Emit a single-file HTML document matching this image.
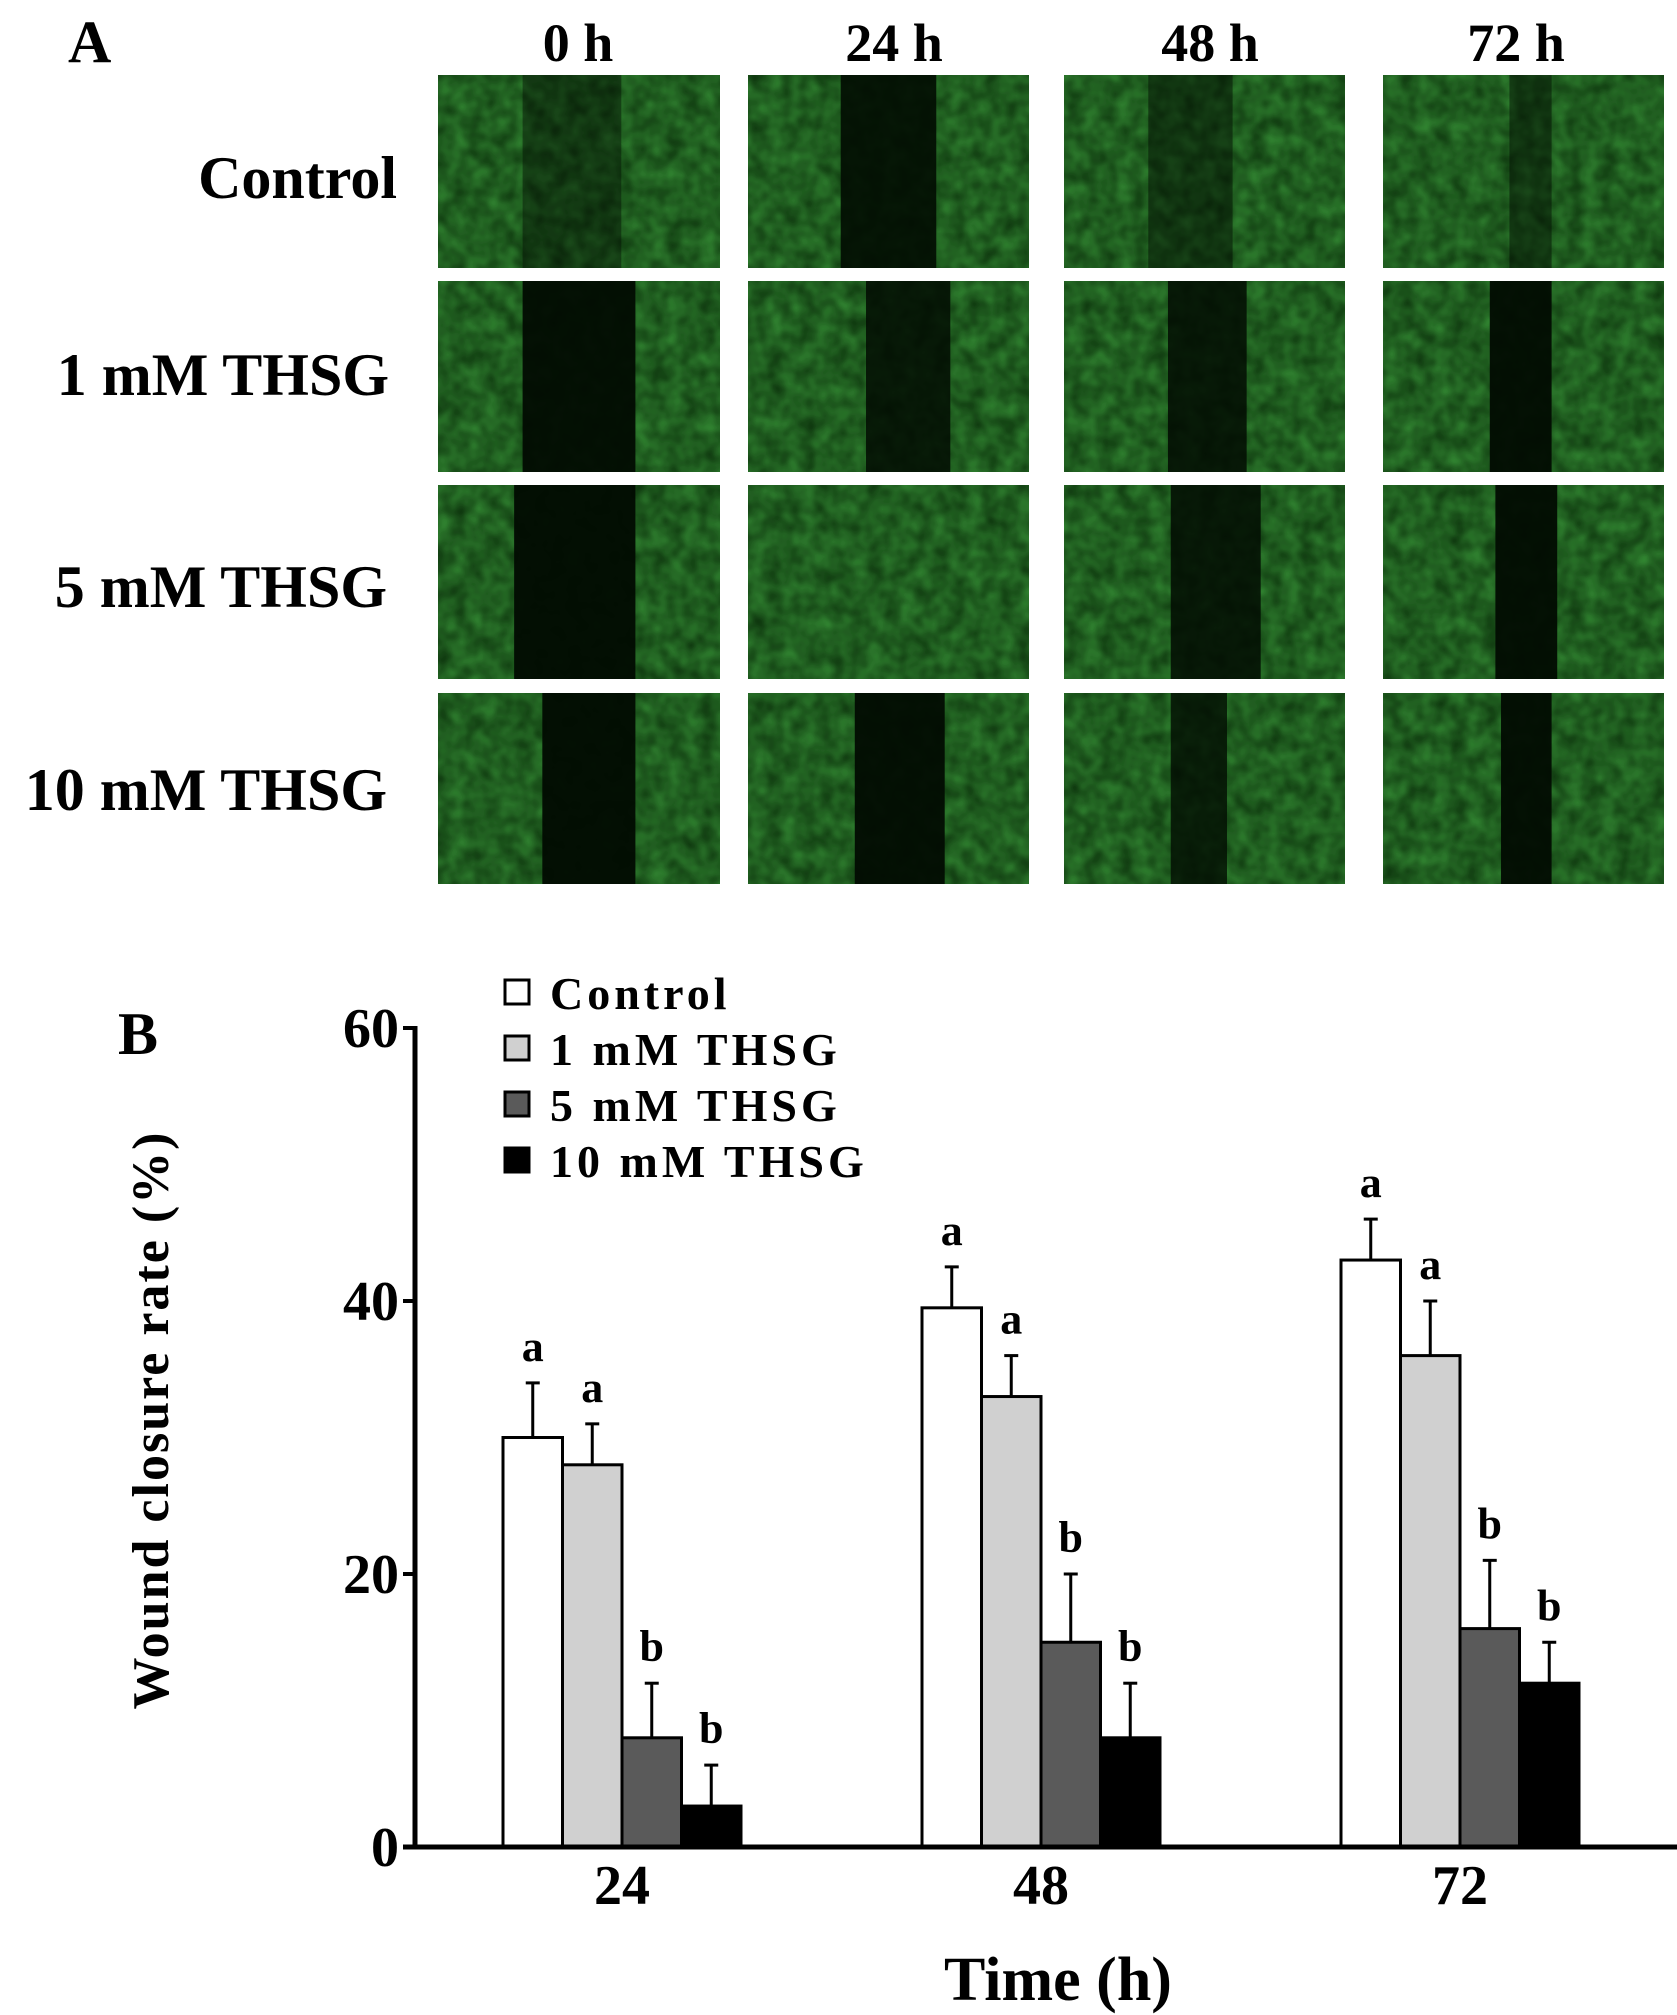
<!DOCTYPE html>
<html><head><meta charset="utf-8">
<style>
html,body{margin:0;padding:0;background:#fff;}
body{width:1677px;height:2015px;position:relative;overflow:hidden;font-family:"Liberation Serif",serif;font-weight:bold;}
.t{position:absolute;white-space:nowrap;color:#000;}
</style></head>
<body>
<svg id="panelA" width="1677" height="900" style="position:absolute;left:0;top:0">
<defs>
<filter id="tex" x="0" y="0" width="100%" height="100%">
<feTurbulence type="fractalNoise" baseFrequency="0.06" numOctaves="2" seed="3"/>
<feColorMatrix type="matrix" values="0 0 0 0 0.04  0 0 0 0 0.30  0 0 0 0 0.04  0.9 0 0 0 0"/>
<feComposite in2="SourceGraphic" operator="in"/>
</filter>
</defs>
<g id="cells"></g>
</svg>
<div class="t" style="left:68px;top:8px;font-size:60px;">A</div>
<div class="t" style="left:518px;top:12px;width:120px;text-align:center;font-size:54px;">0 h</div>
<div class="t" style="left:834px;top:12px;width:120px;text-align:center;font-size:54px;">24 h</div>
<div class="t" style="left:1150px;top:12px;width:120px;text-align:center;font-size:54px;">48 h</div>
<div class="t" style="left:1456px;top:12px;width:120px;text-align:center;font-size:54px;">72 h</div>
<div class="t" style="right:1280px;top:144px;font-size:60px;">Control</div>
<div class="t" style="right:1288px;top:341px;font-size:60px;">1 mM THSG</div>
<div class="t" style="right:1290px;top:553px;font-size:60px;">5 mM THSG</div>
<div class="t" style="right:1290px;top:756px;font-size:60px;">10 mM THSG</div>

<svg id="chart" width="1677" height="1115" style="position:absolute;left:0;top:900px"></svg>

<script>
// Panel A cells
const colX=[438,748,1064,1383], colW=[282,281,281,281];
const rowY=[75,281,485,693], rowH=[193,191,194,191];
const wounds=[[[0.3,0.65,0.45],[0.33,0.67,0.9],[0.3,0.6,0.5],[0.45,0.6,0.5]],
[[0.3,0.7,0.95],[0.42,0.72,0.85],[0.37,0.65,0.85],[0.38,0.6,0.95]],
[[0.27,0.7,0.97],[0,0,0],[0.38,0.7,0.85],[0.4,0.62,0.95]],
[[0.37,0.7,0.97],[0.38,0.7,0.95],[0.38,0.58,0.8],[0.42,0.6,0.95]]];
const NS="http://www.w3.org/2000/svg";
const cells=document.getElementById('cells');
for(let r=0;r<4;r++)for(let c=0;c<4;c++){
 const x=colX[c],y=rowY[r],w=colW[c],h=rowH[r];
 const g=document.createElementNS(NS,'g');
 
 
 const b=document.createElementNS(NS,'rect');
 b.setAttribute('x',x);b.setAttribute('y',y);b.setAttribute('width',w);b.setAttribute('height',h);b.setAttribute('fill','#0b300b');
 g.appendChild(b);
 const n=document.createElementNS(NS,'rect');
 n.setAttribute('x',x);n.setAttribute('y',y);n.setAttribute('width',w);n.setAttribute('height',h);n.setAttribute('fill','#fff');n.setAttribute('filter','url(#tex)');
 g.appendChild(n);
 const wd=wounds[r][c];
 if(wd[1]>0){const s=document.createElementNS(NS,'rect');
  s.setAttribute('x',x+w*wd[0]);s.setAttribute('y',y);s.setAttribute('width',w*(wd[1]-wd[0]));s.setAttribute('height',h);
  s.setAttribute('fill','#020c02');s.setAttribute('opacity',wd[2]);g.appendChild(s);}
 cells.appendChild(g);
}

// Chart data
const categories=["24","48","72"];
const seriesNames=["Control","1 mM THSG","5 mM THSG","10 mM THSG"];
const control=[30,39.5,43];
const mM1=[28,33,36];
const mM5=[8,15,16];
const mM10=[3,8,12];
const controlErr=[4,3,3];
const mM1Err=[3,3,4];
const mM5Err=[4,5,5];
const mM10Err=[3,4,3];
const letters=[["a","a","b","b"],["a","a","b","b"],["a","a","b","b"]];
const yTicks=[0,20,40,60];

const series=[control,mM1,mM5,mM10], errs=[controlErr,mM1Err,mM5Err,mM10Err];
const fills=["#ffffff","#d0d0d0","#5a5a5a","#000000"];
const oy=900;
const y0=1847-oy, y60=1028-oy;
const yS=v=>y0-(v/60)*(y0-y60);
const axX=415, groupX=i=>503+i*419, barW=59.5;
const xS=(i,s)=>groupX(i)+s*barW;
const svg=document.getElementById('chart');
function mk(tag,attrs,parent){const e=document.createElementNS(NS,tag);for(const k in attrs)e.setAttribute(k,attrs[k]);(parent||svg).appendChild(e);return e;}
for(let i=0;i<categories.length;i++){
 for(let s=0;s<4;s++){
  const v=series[s][i],e=errs[s][i];
  const x=xS(i,s);
  const bar=mk('rect',{x:x,y:yS(v),width:barW,height:y0-yS(v),fill:fills[s],stroke:'#000','stroke-width':3});
  
  
  const cx=x+barW/2;
  const eb=mk('line',{x1:cx,x2:cx,y1:yS(v),y2:yS(v+e),stroke:'#000','stroke-width':3});
  
  
  const cap=mk('line',{x1:cx-7,x2:cx+7,y1:yS(v+e),y2:yS(v+e),stroke:'#000','stroke-width':3});
  
  
  const lt=mk('text',{x:cx,y:yS(v+e)-22,'text-anchor':'middle','font-size':44,'font-weight':'bold','font-family':'Liberation Serif, serif'});
  lt.textContent=letters[i][s];
  
  
 }
 const tl=mk('text',{x:groupX(i)+2*barW,y:1904-oy,'text-anchor':'middle','font-size':56,'font-weight':'bold','font-family':'Liberation Serif, serif'});
 tl.textContent=categories[i];
 
 
}
const ya=mk('line',{x1:axX,x2:axX,y1:y60-2,y2:y0+2,stroke:'#000','stroke-width':5});


const xa=mk('line',{x1:axX-12,x2:1677,y1:y0,y2:y0,stroke:'#000','stroke-width':5});


yTicks.forEach(t=>{
 const tk=mk('line',{x1:axX-12,x2:axX,y1:yS(t),y2:yS(t),stroke:'#000','stroke-width':4});
 
 
 const tt=mk('text',{x:axX-16,y:yS(t)+19,'text-anchor':'end','font-size':56,'font-weight':'bold','font-family':'Liberation Serif, serif'});
 tt.textContent=t;
 
 
});
const legY=[993,1049,1105,1161];
seriesNames.forEach((n,s)=>{
 const r=mk('rect',{x:505,y:legY[s]-oy-13,width:24,height:24,fill:fills[s],stroke:'#000','stroke-width':3});
 
 
 const tx=mk('text',{x:550,y:legY[s]-oy+16,'font-size':46,'font-weight':'bold','letter-spacing':'4','font-family':'Liberation Serif, serif'});
 tx.textContent=n;
 
 
});
const yt=mk('text',{x:0,y:0,'text-anchor':'middle','font-size':52,'font-weight':'bold','letter-spacing':'2','font-family':'Liberation Serif, serif',transform:'translate(168,'+(1420-oy)+') rotate(-90)'});
yt.textContent='Wound closure rate (%)';


const xt=mk('text',{x:1058,y:2000-oy,'text-anchor':'middle','font-size':62,'font-weight':'bold','font-family':'Liberation Serif, serif'});
xt.textContent='Time (h)';


const bl=mk('text',{x:118,y:1054-oy,'font-size':60,'font-weight':'bold','font-family':'Liberation Serif, serif'});
bl.textContent='B';


</script>
</body></html>
